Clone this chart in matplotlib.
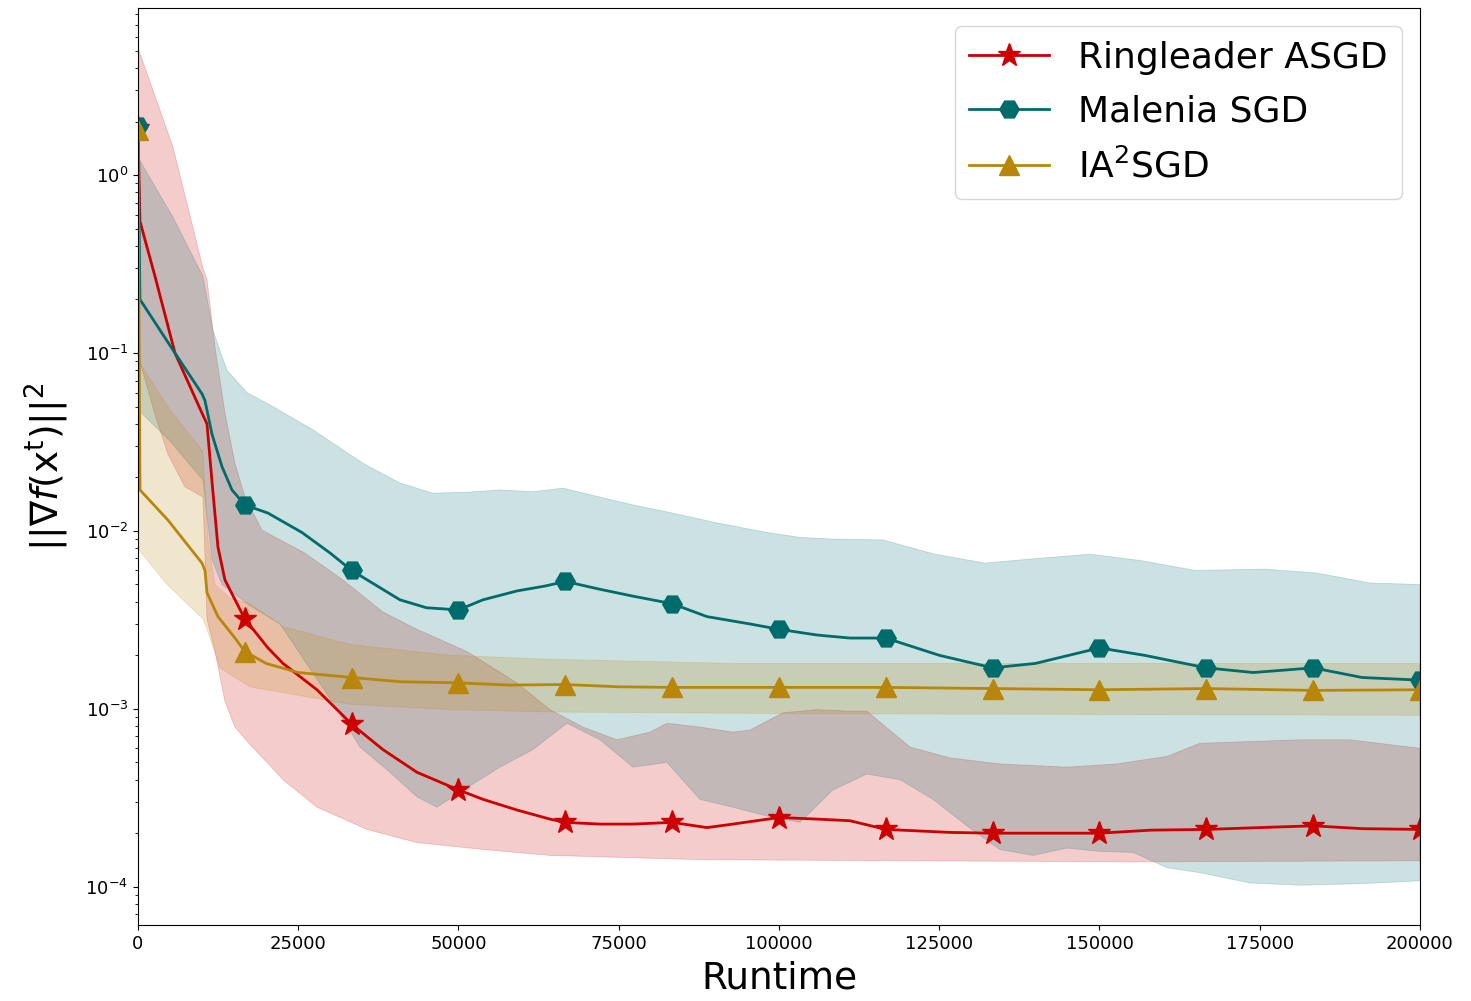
import numpy as np
import matplotlib
matplotlib.use("Agg")
import matplotlib.pyplot as plt

# mean curves (runtime, ||grad||^2)
ring_x = [0, 312, 2652, 5772, 9984, 10764, 11544, 12480, 13572, 16667, 20280, 22620,
          27924, 33333, 38220, 43524, 50000, 53820, 59124, 64272, 66667, 72072, 77220,
          83333, 88764, 92820, 100000, 105924, 111072, 116667, 126672, 133333, 142272,
          150000, 158000, 166667, 175000, 183333, 191000, 200000]
ring_y = [1.85, 0.55, 0.27, 0.10, 0.046, 0.040, 0.019, 0.0081, 0.0053, 0.0032, 0.0022, 0.0018,
          0.00128, 0.00082, 0.00059, 0.00044, 0.00035, 0.00031, 0.00027, 0.00024, 0.00023,
          0.000225, 0.000225, 0.00023, 0.000215, 0.000225, 0.000245, 0.00024, 0.000235,
          0.00021, 0.000202, 0.0002, 0.0002, 0.0002, 0.000208, 0.00021, 0.000215, 0.00022,
          0.000212, 0.00021]

mal_x = [0, 312, 5772, 9984, 10452, 11544, 13104, 14664, 16667, 20280, 25584, 30000, 33333,
         40872, 45000, 50000, 53820, 59124, 63500, 66667, 72072, 77220, 83333, 88764, 95472,
         100000, 105924, 111072, 116667, 125000, 133333, 140000, 150000, 157000, 166667,
         174000, 183333, 191000, 200000]
mal_y = [1.9, 0.20, 0.10, 0.059, 0.054, 0.035, 0.023, 0.017, 0.014, 0.0126, 0.0098, 0.0075,
         0.006, 0.0041, 0.0037, 0.0036, 0.0041, 0.0046, 0.0049, 0.0052, 0.0047, 0.0043, 0.0039,
         0.0033, 0.0030, 0.0028, 0.0026, 0.0025, 0.0025, 0.0020, 0.0017, 0.0018, 0.0022, 0.0020,
         0.0017, 0.0016, 0.0017, 0.0015, 0.00145]

ia_x = [0, 312, 4680, 9984, 10452, 10764, 12480, 15132, 16667, 20000, 25000, 33333, 41000,
        50000, 58000, 66667, 75000, 83333, 100000, 116667, 133333, 150000, 166667, 183333, 200000]
ia_y = [1.8, 0.017, 0.0115, 0.0066, 0.006, 0.0045, 0.0033, 0.0025, 0.0021, 0.0018, 0.0016,
        0.0015, 0.00142, 0.0014, 0.00136, 0.00137, 0.00133, 0.00132, 0.00132, 0.00132, 0.0013,
        0.00128, 0.0013, 0.00127, 0.00128]

# shaded bands: upper and lower edges
ring_up_x = [0, 5460, 10140, 10764, 12012, 13572, 15132, 16692, 19344, 26052, 31980, 38220,
             43524, 51324, 59124, 64272, 69420, 74724, 79872, 82524, 87672, 92820, 95472,
             100620, 105924, 111072, 113724, 120432, 126672, 134472, 144924, 152724, 160524,
             165672, 181272, 189072, 200000]
ring_up_y = [5.2, 1.44, 0.30, 0.26, 0.108, 0.046, 0.024, 0.0155, 0.0101, 0.0075, 0.0053, 0.0035,
             0.0028, 0.0021, 0.0014, 0.00099, 0.00079, 0.00067, 0.00074, 0.00083, 0.00079,
             0.00074, 0.00076, 0.00095, 0.00099, 0.00097, 0.00097, 0.00061, 0.00053, 0.00049,
             0.00047, 0.00049, 0.00054, 0.00064, 0.00067, 0.00067, 0.00060]
ring_lo_x = [0, 2652, 4680, 7332, 10140, 10764, 12012, 13572, 15132, 17472, 20124, 22620,
             27924, 35724, 43524, 53820, 64272, 87672, 118872, 155220, 200000]
ring_lo_y = [0.098, 0.045, 0.027, 0.0177, 0.0155, 0.0032, 0.0021, 0.0011, 0.00079, 0.00063,
             0.0005, 0.0004, 0.00028, 0.00021, 0.000177, 0.000162, 0.00015, 0.000142, 0.00014,
             0.000138, 0.00014]

mal_up_x = [0, 5460, 10140, 11700, 13884, 17004, 21060, 27300, 35100, 40872, 46020, 51324,
            56472, 61620, 66300, 72072, 77220, 82524, 90324, 98124, 103272, 108420, 116220,
            124332, 132132, 140244, 148512, 156624, 164892, 175812, 183924, 192192, 200000]
mal_up_y = [1.26, 0.58, 0.27, 0.134, 0.080, 0.060, 0.050, 0.037, 0.024, 0.0186, 0.0163, 0.0165,
            0.0170, 0.0166, 0.0174, 0.0155, 0.0140, 0.0128, 0.0111, 0.0098, 0.0092, 0.0090,
            0.0089, 0.0074, 0.0066, 0.0070, 0.0074, 0.0068, 0.0060, 0.0061, 0.0058, 0.0051, 0.0050]
mal_lo_x = [0, 4992, 10140, 11544, 13104, 17472, 22152, 30420, 34632, 39312, 43524, 46644,
            51324, 56472, 61620, 66924, 72072, 77220, 82524, 87672, 92820, 98124, 103272,
            108420, 113724, 118872, 124020, 129324, 134472, 139620, 144924, 150072, 155220,
            160524, 165672, 173472, 181272, 190632, 200000]
mal_lo_y = [0.048, 0.032, 0.0193, 0.0069, 0.005, 0.0038, 0.003, 0.00108, 0.00061, 0.00044,
            0.00032, 0.00028, 0.00036, 0.00047, 0.00059, 0.00083, 0.00067, 0.00047, 0.00050,
            0.00031, 0.00028, 0.00025, 0.00023, 0.00035, 0.00043, 0.00040, 0.00031, 0.00022,
            0.000162, 0.00015, 0.000165, 0.000158, 0.000156, 0.000128, 0.00012, 0.000105,
            0.000102, 0.000104, 0.000108]

ia_up_x = [0, 4992, 10140, 10920, 12012, 14352, 17472, 22620, 33072, 48672, 64272, 92820,
           134472, 200000]
ia_up_y = [0.091, 0.048, 0.028, 0.0089, 0.005, 0.0042, 0.0039, 0.0029, 0.0023, 0.0020, 0.0019,
           0.0018, 0.0018, 0.0018]
ia_lo_x = [0, 312, 4524, 10140, 10764, 12792, 17472, 33072, 48672, 64272, 103272, 200000]
ia_lo_y = [0.0084, 0.0077, 0.0050, 0.0032, 0.0028, 0.0017, 0.00133, 0.00106, 0.00099,
           0.00096, 0.00094, 0.00092]

marks = np.linspace(0, 200000, 13)

series = [
    ("Ringleader ASGD", ring_x, ring_y, ring_up_x, ring_up_y, ring_lo_x, ring_lo_y, "#cc0000", "*", 17),
    ("Malenia SGD", mal_x, mal_y, mal_up_x, mal_up_y, mal_lo_x, mal_lo_y, "#006b6b", "H", 14),
    ("IA$^2$SGD", ia_x, ia_y, ia_up_x, ia_up_y, ia_lo_x, ia_lo_y, "#b8860b", "^", 15),
]

fig = plt.figure(figsize=(14.71, 10.01), dpi=100)
ax = fig.add_axes([0.0938, 0.076, 0.8715, 0.916])

for label, x, y, ux, uy, lx, ly, c, m, ms in series:
    x = np.array(x)
    px = np.r_[ux, lx[::-1]]
    py = np.r_[uy, ly[::-1]]
    ax.fill(px, py, color=c, alpha=0.2, lw=0.6)
    idx = [int(np.argmin(np.abs(x - mk))) for mk in marks]
    ax.plot(x, y, color=c, lw=2, marker=m, markersize=ms, markevery=idx, label=label)

ax.set_yscale("log")
ax.set_xlim(0, 200000)
ax.set_ylim(6.1e-5, 8.7)
ax.set_xticks(np.arange(0, 200001, 25000))
ax.tick_params(labelsize=13)
ax.set_xlabel("Runtime", fontsize=27, labelpad=6)
ax.set_ylabel(r"$||\nabla f(\mathrm{x}^{\mathrm{t}})||^2$", fontsize=27, labelpad=10)
ax.legend(loc="upper right", fontsize=26, labelspacing=0.55, handlelength=2.2)

fig.savefig("out.png", dpi=100)
